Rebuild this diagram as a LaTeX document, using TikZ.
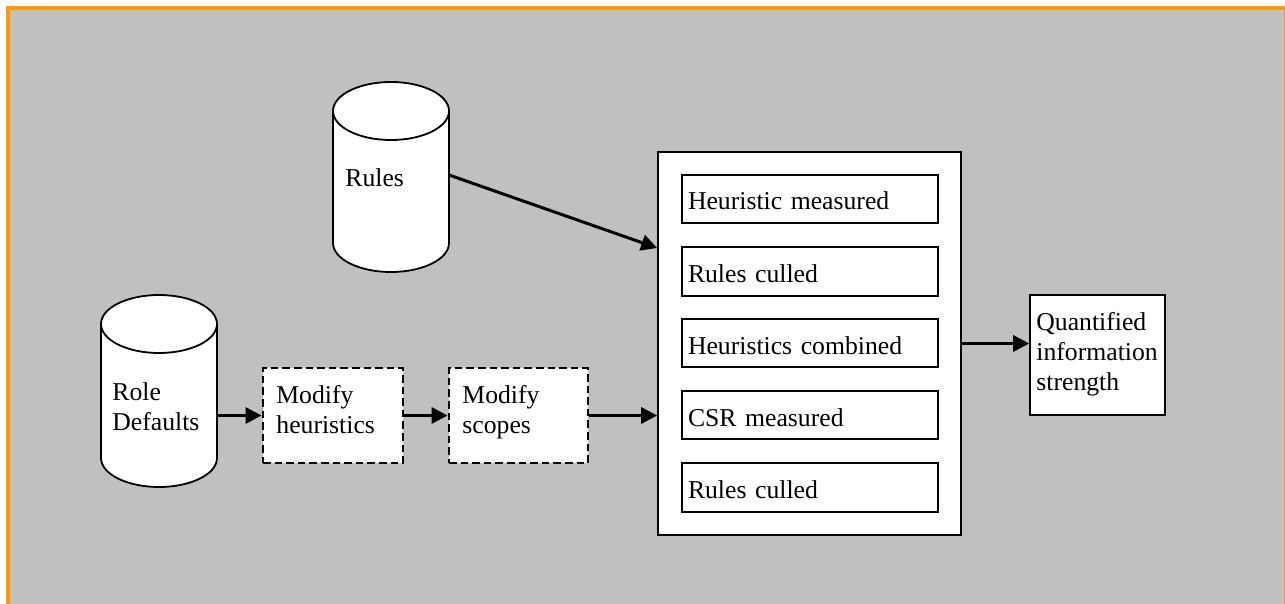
\documentclass[tikz,border=0pt]{standalone}
\usepackage{fontspec}
\setmainfont{Liberation Serif}
\usetikzlibrary{arrows.meta}
\definecolor{bggray}{HTML}{C0C0C0}
\definecolor{frameorange}{HTML}{FF9900}
\begin{document}
\begin{tikzpicture}[x=0.5pt,y=-0.5pt,
  txt/.style={font=\fontsize{12.85pt}{15pt}\selectfont, inner sep=0pt, align=left},
  box/.style={draw=black, line width=0.8pt, fill=white},
  dbox/.style={draw=black, line width=1.4pt, dash pattern=on 3.8pt off 2pt, fill=white, inner sep=0pt},
  stage/.style={box, inner xsep=3pt, inner ysep=0pt, text width=122pt, minimum height=24.25pt,
    text height=11pt, text depth=0pt, font=\fontsize{12.85pt}{15pt}\selectfont, align=left},
  conn/.style={line width=1.5pt, -{Triangle[length=8pt,width=8pt]}},
  cyl/.style={draw=black, line width=0.9pt, fill=white},
  hold/.style={inner sep=0pt, outer sep=0pt, minimum width=58pt}
]
\useasboundingbox (0,0) rectangle (1285,604);
\fill[white] (0,0) rectangle (1285,604);
\fill[bggray] (10,10) rectangle (1284,604);
\fill[frameorange] (6,6) rectangle (1285,10);
\fill[frameorange] (6,6) rectangle (10,604);
\fill[frameorange] (1284,10) rectangle (1285,604);

% Rules cylinder
\node[hold, minimum height=95pt] (rules) at (391,177) {};
\draw[cyl] (333,111) -- (333,243) arc[start angle=180,end angle=0,x radius=58,y radius=29]
  -- (449,111) arc[start angle=0,end angle=-180,x radius=58,y radius=29] -- cycle;
\draw[cyl, fill=none] (333,111) arc[start angle=180,end angle=0,x radius=58,y radius=29];
\node[txt, anchor=base west] (trules) at (345,187) {Rules};

% Role Defaults cylinder
\node[hold, minimum height=96pt] (role) at (159,391) {};
\draw[cyl] (101,324) -- (101,458) arc[start angle=180,end angle=0,x radius=58,y radius=29]
  -- (217,324) arc[start angle=0,end angle=-180,x radius=58,y radius=29] -- cycle;
\draw[cyl, fill=none] (101,324) arc[start angle=180,end angle=0,x radius=58,y radius=29];
\node[txt, anchor=north west] (trole) at (112,382.3) {Role\\Defaults};

% dashed boxes
\node[dbox, minimum width=70pt, minimum height=47.5pt] (mh) at (333,415.5) {};
\node[txt, anchor=north west] (tmh) at (276,385.3) {Modify\\heuristics};
\node[dbox, minimum width=69.5pt, minimum height=47.5pt] (ms) at (518.5,415.5) {};
\node[txt, anchor=north west] (tms) at (462,385.3) {Modify\\scopes};

% big box
\node[box, minimum width=151.5pt, minimum height=191.5pt, inner sep=0pt] (big) at (809.5,343.5) {};
\node[stage] (s1) at (810,199) {Heuristic measured};
\node[stage] (s2) at (810,271.5) {Rules culled};
\node[stage] (s3) at (810,343) {Heuristics combined};
\node[stage] (s4) at (810,415) {CSR measured};
\node[stage] (s5) at (810,487.5) {Rules culled};

% result box
\node[box, minimum width=67.5pt, minimum height=60pt, inner sep=0pt] (q) at (1097.5,355) {};
\node[txt, anchor=north west] (tq) at (1036,312.3) {Quantified\\information\\strength};

% connectors
\draw[conn] ([yshift=1pt]rules.east) -- ([yshift=47.75pt]big.west);
\draw[conn] (role.east |- mh.west) -- (mh.west);
\draw[conn] (mh.east) -- (ms.west);
\draw[conn] (ms.east) -- (big.west |- ms.east);
\draw[conn] (big.east) -- (q.west |- big.east);
\end{tikzpicture}
\end{document}
